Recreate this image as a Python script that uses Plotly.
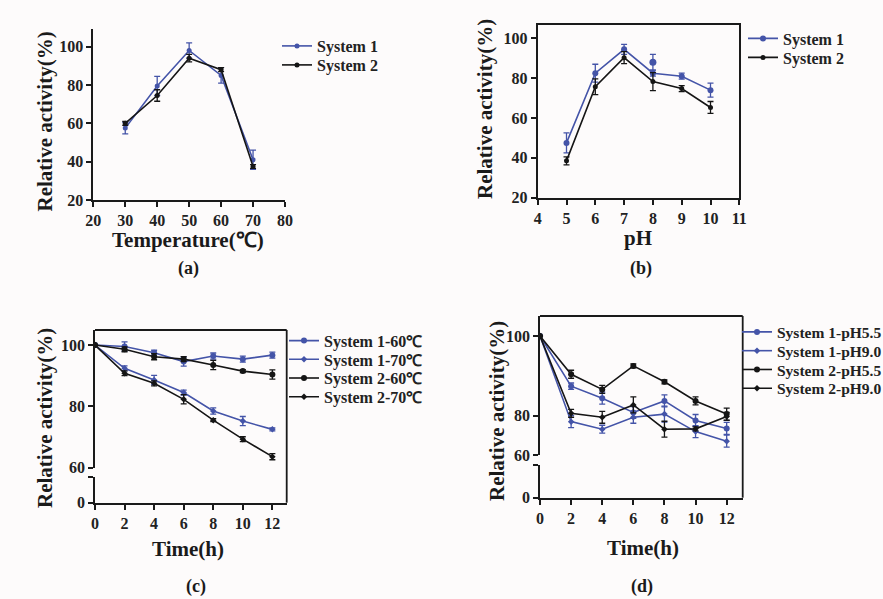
import plotly.graph_objects as go

# ---------------- data ----------------
temp_x = [30, 40, 50, 60, 70]
temp_s1 = [57.5, 79.5, 98, 85, 41]
temp_s1_err = [3, 5, 4, 4, 5]
temp_s2 = [60, 74.5, 94, 88, 37.5]
temp_s2_err = [1, 3, 2, 1, 1]

ph_x = [5, 6, 7, 8, 9, 10]
ph_s1 = [47.5, 82.5, 94.5, 82.5, 81, 74]
ph_s1_err = [5, 4.5, 2.5, 1.5, 1.5, 3.5]
ph_s1_extra_x = [8]
ph_s1_extra = [88]
ph_s1_extra_err = [4]
ph_s2 = [38.5, 75.7, 90.3, 78.3, 74.8, 65.3]
ph_s2_err = [2, 4, 3, 4.5, 1.5, 3]

time_x = [0, 2, 4, 6, 8, 10, 12]
c_s1_60 = [100, 99.5, 97.5, 94.6, 96.4, 95.4, 96.7]
c_s1_60_err = [0, 1.5, 0.8, 1.5, 1, 1, 1]
c_s1_70 = [100, 92.4, 88.6, 84.5, 78.5, 75.2, 72.5]
c_s1_70_err = [0, 0.8, 1.5, 0.8, 1, 1.5, 0.5]
c_s2_60 = [100, 98.6, 96.2, 95.4, 93.5, 91.5, 90.4]
c_s2_60_err = [0, 0.8, 1, 0.8, 1.5, 0.5, 1.5]
c_s2_70 = [100, 90.8, 87.5, 82.3, 75.5, 69.3, 63.6]
c_s2_70_err = [0, 0.8, 0.8, 1.5, 0.5, 0.8, 1]

d_s1_55 = [100, 87.4, 84.4, 80.8, 83.7, 78.8, 76.8]
d_s1_55_err = [0, 0.8, 1.5, 1.5, 1.5, 1.5, 1.5]
d_s1_90 = [100, 78.5, 76.6, 79.6, 80.4, 76.0, 73.6]
d_s1_90_err = [0, 1.5, 1, 1.5, 2, 1.5, 1.5]
d_s2_55 = [100, 90.4, 86.6, 92.5, 88.5, 83.7, 80.4]
d_s2_55_err = [0, 1, 1, 0.5, 0.5, 1, 1.5]
d_s2_90 = [100, 80.6, 79.6, 82.7, 76.6, 76.7, 79.8]
d_s2_90_err = [0, 1, 1.5, 2, 2, 0.5, 1]

legend_ab = ["System 1", "System 2"]
legend_c = ["System 1-60℃", "System 1-70℃", "System 2-60℃", "System 2-70℃"]
legend_d = ["System 1-pH5.5", "System 1-pH9.0", "System 2-pH5.5", "System 2-pH9.0"]

y_ticks_ab = [20, 40, 60, 80, 100]
y_ticks_upper = [60, 80, 100]
y_ticktext_upper = ["60", "80", "100"]
d_upper_bottom = 70.13
y_ticks_upper_d = [d_upper_bottom, 80, 100]

# ---------------- style ----------------
W, H = 883, 599
BLUE = "#4454a8"
BLACK = "#151515"
AX = "#1a1a1a"
FONT = "Liberation Serif"


def px(x):
    return x / W


def py(y):
    return 1 - y / H


def err(arr, col):
    return dict(type="data", array=arr, visible=True, color=col, thickness=1.3, width=3)


fig = go.Figure()
legend_slots = []  # (legend id, text-start x px, centre y px, font size)


def add(x, y, e, name, col, sym, size, xa, ya, leg_pos=None, mode="lines+markers"):
    leg = None
    if leg_pos is not None:
        leg = "legend" if not legend_slots else "legend%d" % (len(legend_slots) + 1)
        legend_slots.append((leg,) + tuple(leg_pos))
    kw = dict(legend=leg) if leg else {}
    fig.add_trace(go.Scatter(
        x=x, y=y, name=name, mode=mode, xaxis=xa, yaxis=ya,
        showlegend=leg is not None,
        line=dict(color=col, width=1.6),
        marker=dict(color=col, symbol=sym, size=size),
        error_y=err(e, col), **kw,
    ))


# (a)
add(temp_x, temp_s1, temp_s1_err, legend_ab[0], BLUE, "circle", 5, "x", "y", (317, 41, 16))
add(temp_x, temp_s2, temp_s2_err, legend_ab[1], BLACK, "circle", 5, "x", "y", (317, 60, 16))
# (b)
add(ph_x, ph_s1, ph_s1_err, legend_ab[0], BLUE, "circle", 6, "x2", "y2", (783, 33.5, 16))
add(ph_s1_extra_x, ph_s1_extra, ph_s1_extra_err, legend_ab[0], BLUE, "circle", 7, "x2", "y2",
    None, mode="markers")
add(ph_x, ph_s2, ph_s2_err, legend_ab[1], BLACK, "circle", 5, "x2", "y2", (783, 52.5, 16))
# (c)
c_vals = [(c_s1_60, c_s1_60_err, BLUE, "circle", 6), (c_s1_70, c_s1_70_err, BLUE, "diamond", 5),
          (c_s2_60, c_s2_60_err, BLACK, "circle", 6), (c_s2_70, c_s2_70_err, BLACK, "diamond", 5)]
for i, (v, e, col, sym, sz) in enumerate(c_vals):
    add(time_x, v, e, legend_c[i], col, sym, sz, "x3", "y3", (324, 335.7 + 18.7 * i, 16))
# (d)
d_vals = [(d_s1_55, d_s1_55_err, BLUE, "circle", 6), (d_s1_90, d_s1_90_err, BLUE, "diamond", 5),
          (d_s2_55, d_s2_55_err, BLACK, "circle", 6), (d_s2_90, d_s2_90_err, BLACK, "diamond", 5)]
for i, (v, e, col, sym, sz) in enumerate(d_vals):
    add(time_x, v, e, legend_d[i], col, sym, sz, "x4", "y5", (777, 327.3 + 18.8 * i, 15.5))

# invisible traces so the lower broken-axis segments get drawn
fig.add_trace(go.Scatter(x=[None], y=[None], xaxis="x3", yaxis="y4", showlegend=False,
                         hoverinfo="skip", mode="markers"))
fig.add_trace(go.Scatter(x=[None], y=[None], xaxis="x4", yaxis="y6", showlegend=False,
                         hoverinfo="skip", mode="markers"))

tickfont = dict(family=FONT, size=16, color="#222", weight="bold")
common = dict(showline=True, linecolor=AX, linewidth=1.8, ticks="outside", ticklen=5,
              tickwidth=1.6, tickcolor=AX, showgrid=False, zeroline=False, tickfont=tickfont,
              automargin=False)

fig.update_layout(
    template="none",
    width=W, height=H,
    margin=dict(l=0, r=0, t=0, b=0, autoexpand=False),
    paper_bgcolor="#fdfbfb", plot_bgcolor="rgba(0,0,0,0)",
    xaxis=dict(domain=[px(93.3), px(285)], range=[20, 80], tickvals=[20, 30, 40, 50, 60, 70, 80],
               anchor="y", **common),
    yaxis=dict(domain=[py(200), py(29)], range=[20, 109.2], tickvals=y_ticks_ab, anchor="x", **common),
    xaxis2=dict(domain=[px(537.7), px(739.3)], range=[4, 11], tickvals=list(range(4, 12)),
                anchor="y2", mirror=True, **common),
    yaxis2=dict(domain=[py(197.7), py(25)], range=[20, 106.7], tickvals=y_ticks_ab, anchor="x2",
                mirror=True, **common),
    xaxis3=dict(domain=[px(95), px(286.7)], range=[0, 12.97], tickvals=time_x,
                anchor="y4", **common),
    yaxis3=dict(domain=[py(467.7), py(330)], range=[60, 104.9], tickvals=y_ticks_upper,
                ticktext=y_ticktext_upper, anchor="x3", **common),
    yaxis4=dict(domain=[py(502.7), py(476.7)], range=[0, 10], tickvals=[0, 10], ticktext=["0", ""],
                anchor="x3", **common),
    xaxis4=dict(domain=[px(540), px(742.7)], range=[0, 13.03], tickvals=time_x,
                anchor="y6", **common),
    yaxis5=dict(domain=[py(455), py(316)], range=[d_upper_bottom, 105.02], tickvals=y_ticks_upper_d,
                ticktext=y_ticktext_upper, anchor="x4", **common),
    yaxis6=dict(domain=[py(497.7), py(465)], range=[0, 10], tickvals=[0, 10], ticktext=["0", ""],
                anchor="x4", **common),
)

for key, tx, cy, fs in legend_slots:
    fig.update_layout({key: dict(x=px(tx - 40), y=py(cy - 12), xanchor="left", yanchor="top",
                                 font=dict(family=FONT, size=fs, color="#222", weight="bold"),
                                 bgcolor="rgba(0,0,0,0)", itemwidth=30, borderwidth=0)})

# frames for broken-axis panels (top and right edges)
for (x0, x1, y0, y1) in [(95, 286.7, 330, 502.7), (540, 742.7, 316, 497.7)]:
    fig.add_shape(type="line", xref="paper", yref="paper", x0=px(x0), x1=px(x1), y0=py(y0), y1=py(y0),
                  line=dict(color=AX, width=1.8))
    fig.add_shape(type="line", xref="paper", yref="paper", x0=px(x1), x1=px(x1), y0=py(y0), y1=py(y1),
                  line=dict(color=AX, width=1.8))

titlefont = dict(family=FONT, size=21, color="#1a1a1a", weight="bold")
labfont = dict(family=FONT, size=18, color="#1a1a1a", weight="bold")
ann = [
    ("Relative activity(%)", 45, 121.5, -90, titlefont),
    ("Temperature(℃)", 188, 240, 0, titlefont),
    ("(a)", 188, 268, 0, labfont),
    ("Relative activity(%)", 485, 109, -90, titlefont),
    ("pH", 638, 238, 0, titlefont),
    ("(b)", 641, 268, 0, labfont),
    ("Relative activity(%)", 45, 418, -90, titlefont),
    ("Time(h)", 188, 549, 0, titlefont),
    ("(c)", 196, 586, 0, labfont),
    ("Relative activity(%)", 497, 411, -90, titlefont),
    ("Time(h)", 643, 548, 0, titlefont),
    ("(d)", 642, 586, 0, labfont),
]
for text, x, y, rot, f in ann:
    fig.add_annotation(text=text, x=px(x), y=py(y), xref="paper", yref="paper", showarrow=False,
                       textangle=rot, font=f, xanchor="center", yanchor="middle")

fig.write_html("out.html", config={"displayModeBar": False},
               post_script="document.body.style.margin='0px';")
